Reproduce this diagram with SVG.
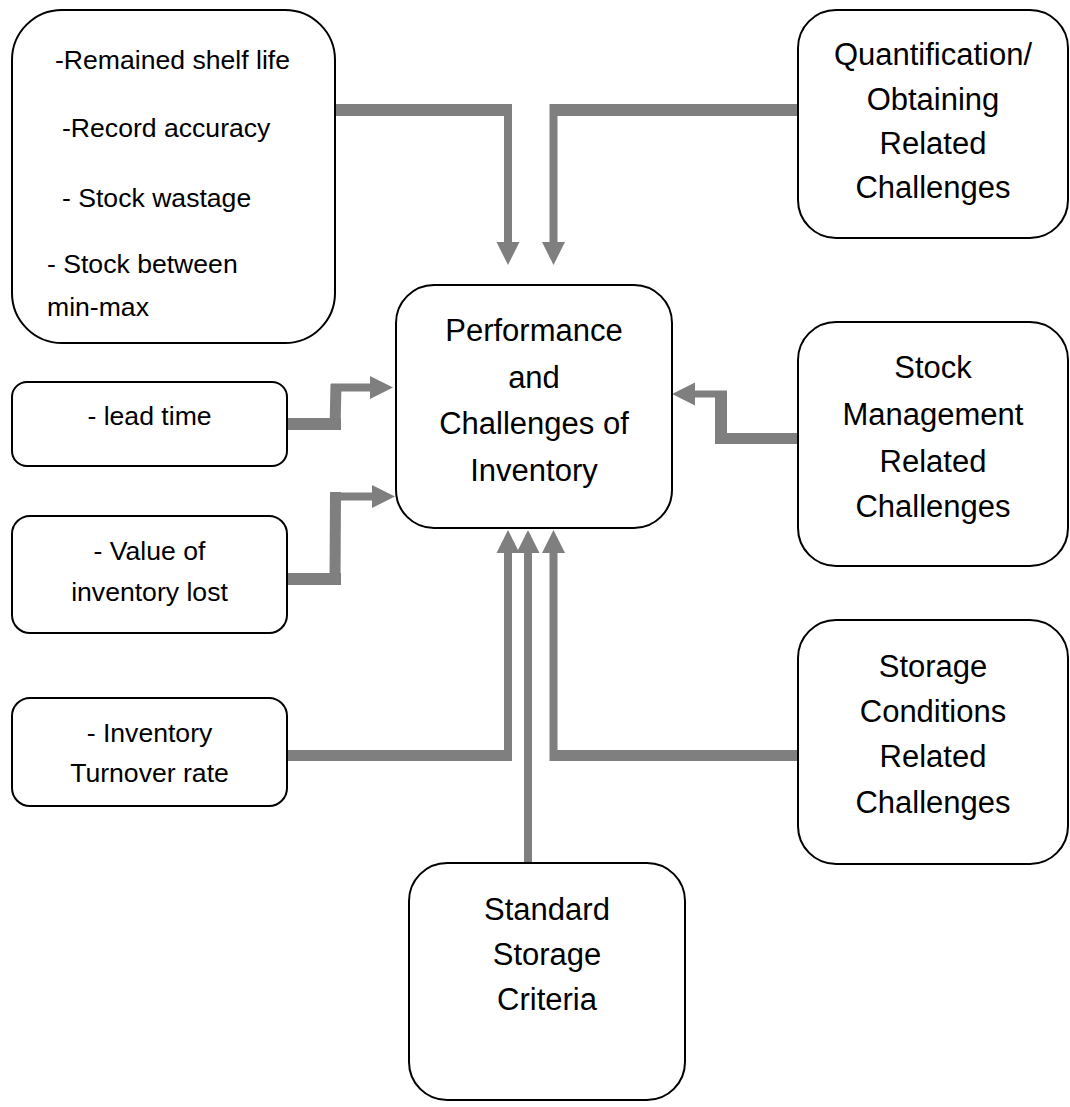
<svg xmlns="http://www.w3.org/2000/svg" width="1070" height="1107" viewBox="0 0 1070 1107">
<style>
.box{fill:#fff;stroke:#000;stroke-width:2}
.t{font-family:"Liberation Sans",Arial,sans-serif;fill:#000}
.big{font-size:31px;text-anchor:middle}
.sm{font-size:26.6px;text-anchor:middle}
.tl{font-size:26.6px}
.c{fill:none;stroke:#7f7f7f;stroke-linecap:butt;stroke-linejoin:miter}
</style>
<defs>
<marker id="ah" markerUnits="userSpaceOnUse" markerWidth="24" markerHeight="24" viewBox="0 -12 24 24" refX="0" refY="0" orient="auto">
<path d="M0,-11.5 L23,0 L0,11.5 Z" fill="#7f7f7f"/>
</marker>
</defs>
<rect width="1070" height="1107" fill="#fff"/>
<g id="connectors">
<path class="c" d="M335,110 H511" stroke-width="12"/>
<path class="c" d="M508,104 V242" stroke-width="8" marker-end="url(#ah)"/>
<path class="c" d="M798,110 H550" stroke-width="12"/>
<path class="c" d="M553.5,104 V242" stroke-width="8" marker-end="url(#ah)"/>
<path class="c" d="M287,424 H341" stroke-width="12"/>
<path class="c" d="M335,430 L336,384" stroke-width="11"/>
<path class="c" d="M331,387.5 H370" stroke-width="8" marker-end="url(#ah)"/>
<path class="c" d="M287,579 H341" stroke-width="12"/>
<path class="c" d="M335,585 L335.5,492" stroke-width="11"/>
<path class="c" d="M331,496.5 H372" stroke-width="8" marker-end="url(#ah)"/>
<path class="c" d="M287,755.5 H512" stroke-width="11"/>
<path class="c" d="M508,761 V553" stroke-width="8" marker-end="url(#ah)"/>
<path class="c" d="M528,863 V553" stroke-width="8" marker-end="url(#ah)"/>
<path class="c" d="M798,755.5 H550" stroke-width="11"/>
<path class="c" d="M553.5,761 V553" stroke-width="8" marker-end="url(#ah)"/>
<path class="c" d="M798,438.5 H715" stroke-width="11"/>
<path class="c" d="M721,444 V391" stroke-width="12"/>
<path class="c" d="M727,394 H695" stroke-width="7" marker-end="url(#ah)"/>
</g>
<g id="node-measures">
<rect class="box" x="12" y="10" width="323" height="333" rx="50"/>
<text class="t tl" x="55" y="69">-Remained shelf life</text>
<text class="t tl" x="62" y="137">-Record accuracy</text>
<text class="t tl" x="62" y="207">- Stock wastage</text>
<text class="t tl" x="47" y="273">- Stock between</text>
<text class="t tl" x="47" y="316">min-max</text>
</g>
<g id="node-quantification">
<rect class="box" x="798" y="10" width="270" height="228" rx="38"/>
<text class="t big" x="933" y="65">Quantification/</text>
<text class="t big" x="933" y="110">Obtaining</text>
<text class="t big" x="933" y="154">Related</text>
<text class="t big" x="933" y="198">Challenges</text>
</g>
<g id="node-center">
<rect class="box" x="396" y="285" width="276" height="243" rx="38"/>
<text class="t big" x="534" y="341">Performance</text>
<text class="t big" x="534" y="388">and</text>
<text class="t big" x="534" y="434">Challenges of</text>
<text class="t big" x="534" y="481">Inventory</text>
</g>
<g id="node-stock-management">
<rect class="box" x="798" y="322" width="270" height="244" rx="38"/>
<text class="t big" x="933" y="378">Stock</text>
<text class="t big" x="933" y="425">Management</text>
<text class="t big" x="933" y="472">Related</text>
<text class="t big" x="933" y="517">Challenges</text>
</g>
<g id="node-lead-time">
<rect class="box" x="12" y="382" width="275" height="84" rx="15"/>
<text class="t sm" x="149.5" y="425">- lead time</text>
</g>
<g id="node-value-lost">
<rect class="box" x="12" y="516" width="275" height="117" rx="18"/>
<text class="t sm" x="149.5" y="560">- Value of</text>
<text class="t sm" x="149.5" y="601">inventory lost</text>
</g>
<g id="node-turnover">
<rect class="box" x="12" y="698" width="275" height="108" rx="18"/>
<text class="t sm" x="149.5" y="742">- Inventory</text>
<text class="t sm" x="149.5" y="782">Turnover rate</text>
</g>
<g id="node-storage-conditions">
<rect class="box" x="798" y="620" width="270" height="244" rx="38"/>
<text class="t big" x="933" y="677">Storage</text>
<text class="t big" x="933" y="722">Conditions</text>
<text class="t big" x="933" y="767">Related</text>
<text class="t big" x="933" y="813">Challenges</text>
</g>
<g id="node-standard-storage">
<rect class="box" x="409" y="863" width="276" height="237" rx="38"/>
<text class="t big" x="547" y="920">Standard</text>
<text class="t big" x="547" y="965">Storage</text>
<text class="t big" x="547" y="1010">Criteria</text>
</g>
</svg>
